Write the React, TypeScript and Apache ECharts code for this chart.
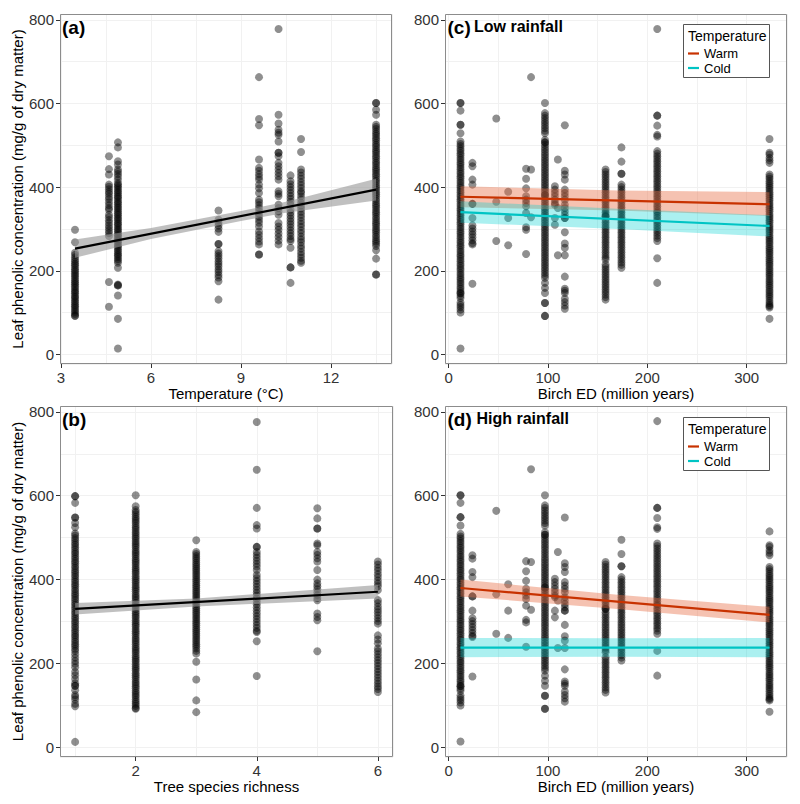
import React, { useEffect, useRef } from "react";
import * as echarts from "echarts";

const FONT = "'Liberation Sans', Arial, Helvetica, sans-serif";

// ---- tick labels ----
const yTicks = [0, 200, 400, 600, 800];
const tempTicks = [3, 6, 9, 12];
const richTicks = [2, 4, 6];
const edTicks = [0, 100, 200, 300];

// ---- panel (a): temperature columns ----
const tempX = [3.47, 4.6, 4.9, 8.25, 9.6, 10.25, 10.65, 11.0, 13.5];
const t347 = [298, 268, 243, 238, 232, 227, 222, 217, 213, 208, 203, 199, 194, 190, 186, 181, 176, 172, 168, 163, 159, 154, 150, 146, 141, 137, 133, 128, 124, 119, 115, 111, 106, 102, 97, 93, 92];
const t46 = [474, 443, 430, 406, 401, 395, 389, 384, 377, 371, 364, 357, 350, 346, 334, 328, 321, 315, 308, 302, 296, 290, 283, 173, 114];
const t49 = [507, 495, 462, 454, 442, 437, 431, 425, 418, 410, 406, 402, 398, 393, 389, 385, 380, 376, 372, 367, 363, 359, 354, 350, 346, 341, 337, 333, 328, 324, 320, 315, 311, 307, 302, 298, 294, 289, 285, 281, 276, 272, 268, 263, 259, 255, 250, 246, 241, 237, 233, 228, 224, 219, 207, 167, 165, 165, 141, 85, 14];
const t825 = [344, 322, 315, 308, 301, 293, 264, 264, 247, 241, 235, 229, 222, 216, 210, 203, 197, 190, 184, 175, 131];
const t96 = [663, 563, 548, 466, 446, 439, 431, 424, 418, 406, 397, 386, 370, 364, 357, 350, 343, 336, 329, 322, 315, 306, 294, 286, 278, 270, 263, 239, 239];
const t1025 = [778, 573, 552, 537, 530, 525, 509, 482, 482, 474, 458, 450, 442, 434, 426, 418, 390, 384, 378, 358, 350, 342, 334, 314, 306, 298, 289, 281, 272, 263];
const t1065 = [428, 414, 407, 400, 393, 386, 379, 372, 365, 358, 346, 339, 332, 325, 318, 311, 304, 297, 290, 283, 276, 271, 255, 208, 208, 171];
const t11 = [515, 484, 442, 435, 427, 420, 412, 405, 398, 390, 386, 378, 371, 363, 356, 349, 341, 334, 327, 319, 312, 305, 297, 290, 282, 275, 268, 260, 253, 245, 238, 231, 224, 219];
const t135 = [601, 601, 585, 573, 549, 544, 539, 533, 528, 523, 517, 512, 506, 501, 496, 490, 485, 480, 474, 469, 463, 458, 453, 447, 442, 437, 431, 426, 420, 415, 410, 404, 399, 394, 388, 383, 378, 372, 367, 361, 356, 351, 345, 340, 335, 329, 324, 318, 313, 308, 302, 297, 292, 286, 281, 275, 270, 265, 259, 249, 229, 191, 191];
const tempCols = [t347, t46, t49, t825, t96, t1025, t1065, t11, t135];

// ---- panel (b): tree species richness columns ----
const richX = [1, 2, 3, 4, 5, 6];
const r1 = [599, 599, 583, 548, 548, 535, 525, 510, 505, 499, 494, 488, 483, 477, 472, 466, 461, 455, 450, 444, 439, 433, 428, 422, 417, 411, 406, 400, 395, 389, 384, 378, 373, 367, 362, 356, 351, 345, 340, 334, 329, 323, 318, 312, 307, 301, 296, 290, 285, 279, 274, 268, 263, 257, 252, 246, 241, 235, 230, 222, 214, 206, 199, 191, 180, 172, 163, 153, 147, 147, 136, 125, 120, 114, 104, 98, 13];
const r2 = [601, 575, 566, 561, 556, 550, 545, 540, 535, 529, 524, 519, 513, 508, 503, 498, 492, 487, 482, 477, 471, 466, 461, 456, 450, 445, 440, 435, 429, 424, 419, 414, 408, 403, 398, 393, 387, 382, 377, 372, 366, 361, 356, 351, 345, 340, 335, 330, 324, 319, 314, 309, 303, 298, 293, 288, 282, 277, 272, 267, 261, 256, 251, 246, 240, 235, 230, 225, 219, 214, 209, 204, 198, 193, 188, 183, 177, 172, 167, 162, 156, 151, 146, 141, 135, 130, 125, 120, 114, 109, 104, 99, 94, 92];
const r3 = [494, 466, 461, 456, 451, 446, 441, 436, 431, 426, 421, 416, 411, 406, 401, 396, 391, 386, 381, 376, 371, 366, 361, 356, 351, 346, 341, 336, 331, 326, 321, 316, 311, 306, 301, 296, 291, 286, 281, 276, 271, 266, 261, 256, 251, 246, 241, 236, 230, 224, 204, 162, 112, 84];
const r4 = [776, 662, 571, 530, 522, 478, 478, 466, 459, 452, 445, 438, 431, 423, 411, 404, 397, 390, 383, 376, 369, 362, 355, 348, 341, 334, 327, 320, 313, 306, 299, 292, 285, 278, 275, 253, 170];
const r5 = [570, 546, 522, 522, 486, 482, 466, 459, 451, 443, 423, 400, 391, 384, 377, 370, 363, 356, 351, 319, 311, 303, 229];
const r6 = [443, 436, 428, 421, 413, 406, 398, 391, 384, 375, 351, 344, 336, 329, 322, 315, 308, 301, 295, 267, 257, 248, 236, 229, 222, 215, 208, 201, 194, 187, 180, 173, 166, 159, 152, 145, 139, 132];
const richCols = [r1, r2, r3, r4, r5, r6];

// ---- panels (c) and (d): birch ED columns ----
const edX = [12, 24, 48, 60, 78, 83, 97, 107, 110, 117, 158, 174, 210, 323];
const e12 = [601, 601, 583, 549, 549, 529, 509, 503, 498, 492, 487, 481, 476, 470, 465, 459, 454, 448, 443, 437, 432, 426, 421, 415, 410, 404, 399, 393, 388, 382, 377, 371, 366, 360, 355, 349, 344, 338, 333, 327, 322, 316, 311, 305, 300, 294, 289, 283, 278, 272, 267, 261, 256, 250, 245, 239, 234, 228, 223, 217, 212, 206, 201, 195, 190, 184, 179, 173, 168, 162, 157, 151, 146, 146, 140, 135, 124, 118, 113, 107, 100, 14];
const e24 = [458, 450, 418, 406, 360, 360, 326, 308, 301, 294, 287, 280, 273, 266, 263, 169];
const e48 = [564, 365, 271];
const e60 = [389, 326, 261];
const e78 = [444, 420, 397, 378, 370, 362, 354, 338, 304, 298, 240];
const e83 = [663, 442, 328];
const e97 = [601, 577, 571, 565, 559, 553, 547, 541, 535, 529, 513, 507, 507, 501, 495, 489, 483, 477, 471, 465, 459, 453, 447, 441, 435, 429, 423, 417, 411, 405, 399, 393, 387, 381, 381, 375, 369, 363, 357, 351, 345, 339, 333, 327, 321, 315, 309, 303, 297, 291, 285, 279, 273, 267, 261, 255, 249, 243, 237, 231, 225, 219, 213, 207, 201, 195, 189, 183, 171, 159, 147, 123, 123, 92, 92];
const e107 = [402, 394, 386, 378, 370, 362, 358, 326, 310];
const e110 = [466, 350, 237];
const e117 = [548, 439, 430, 418, 394, 386, 378, 370, 358, 350, 342, 334, 326, 326, 292, 265, 255, 237, 186, 157, 152, 147, 133, 125, 117, 109];
const e158 = [442, 436, 430, 424, 418, 412, 406, 400, 394, 388, 382, 376, 370, 364, 358, 352, 346, 340, 334, 330, 330, 322, 316, 310, 304, 298, 292, 286, 280, 274, 268, 262, 256, 250, 244, 238, 232, 227, 215, 209, 203, 197, 191, 185, 179, 173, 167, 161, 155, 149, 143, 137, 131];
const e174 = [495, 461, 432, 432, 406, 400, 394, 388, 382, 376, 370, 364, 358, 352, 346, 340, 334, 328, 322, 316, 310, 304, 298, 292, 286, 280, 274, 268, 262, 256, 250, 244, 238, 232, 226, 220, 214, 207];
const e210 = [778, 571, 571, 547, 525, 521, 486, 480, 474, 468, 462, 456, 450, 444, 438, 432, 426, 420, 414, 408, 402, 396, 390, 384, 378, 372, 366, 360, 354, 348, 342, 338, 332, 326, 320, 314, 308, 302, 296, 290, 284, 278, 271, 230, 171];
const e323 = [515, 482, 478, 470, 464, 458, 430, 425, 420, 414, 409, 404, 399, 394, 388, 383, 378, 373, 368, 362, 357, 352, 347, 342, 336, 331, 326, 321, 316, 310, 305, 300, 295, 290, 284, 279, 274, 269, 264, 258, 253, 248, 243, 238, 232, 227, 222, 217, 212, 206, 201, 196, 191, 186, 180, 175, 170, 165, 160, 154, 149, 144, 139, 134, 128, 123, 118, 115, 112, 85];
const edCols = [e12, e24, e48, e60, e78, e83, e97, e107, e110, e117, e158, e174, e210, e323];

// ---- fitted lines and confidence bands ----
const lineA = [[3.47, 253], [13.5, 394]];
const bandAX = [3.47, 6, 9, 10.5, 13.5];
const bandALo = [231, 276, 319, 339, 368];
const bandAHi = [275, 302, 343, 365, 420];

const lineB = [[1, 330], [6, 371]];
const bandBX = [1, 3, 6];
const bandBLo = [317, 336, 355];
const bandBHi = [344, 355, 387];

const edBandX = [12, 170, 323];
const lineCWarm = [[12, 377], [323, 359]];
const bandCWarmLo = [352, 344, 331];
const bandCWarmHi = [402, 392, 388];
const lineCCold = [[12, 340], [323, 307]];
const bandCColdLo = [315, 300, 282];
const bandCColdHi = [366, 348, 333];

const lineDWarm = [[12, 380], [323, 316]];
const bandDWarmLo = [360, 330, 298];
const bandDWarmHi = [400, 364, 335];
const lineDCold = [[12, 238], [323, 238]];
const bandDColdLo = [215, 216, 215];
const bandDColdHi = [261, 260, 261];

const WARM = "#C83200";
const COLD = "#00C4C4";

const GRIDS = [
  { left: 60, top: 14, width: 332, height: 350 },   // a
  { left: 445, top: 14, width: 342, height: 350 },  // c
  { left: 60, top: 406, width: 333, height: 351 },  // b
  { left: 445, top: 406, width: 342, height: 351 }, // d
];

const YMIN = -23;
const YMAX = 814;

function columnsToPoints(xs: number[], cols: number[][]) {
  const out: number[][] = [];
  xs.forEach((x, i) => cols[i].forEach((v) => out.push([x, v])));
  return out;
}

function mainAxis(gridIndex: number, min: number, max: number, step: number, ticks: number[], name: string, nameGap: number) {
  return {
    type: "value",
    gridIndex,
    min,
    max,
    minInterval: step,
    maxInterval: step,
    axisLine: { show: false, onZero: false },
    axisTick: { show: true, length: 4, customValues: ticks, lineStyle: { color: "#333", width: 1 } },
    axisLabel: {
      show: true,
      customValues: ticks,
      color: "#333",
      fontSize: 15,
      fontFamily: FONT,
      margin: 6,
      formatter: (v: number) => (ticks.some((t) => Math.abs(t - v) < 1e-6) ? String(v) : ""),
    },
    splitLine: { show: true, lineStyle: { color: "#e6e6e6", width: 1 } },
    name,
    nameLocation: "middle",
    nameGap,
    nameTextStyle: { color: "#000", fontSize: 15, fontFamily: FONT },
  };
}

function minorAxis(gridIndex: number, min: number, max: number, step: number) {
  return {
    type: "value",
    gridIndex,
    min,
    max,
    minInterval: step,
    maxInterval: step,
    axisLine: { show: false, onZero: false },
    axisTick: { show: false },
    axisLabel: { show: false },
    splitLine: { show: true, lineStyle: { color: "#f1f1f1", width: 1 } },
  };
}

function bandSeries(idx: number, xs: number[], lo: number[], hi: number[], fill: string) {
  return {
    type: "custom",
    xAxisIndex: idx,
    yAxisIndex: idx,
    silent: true,
    z: 3,
    data: xs.map((x, i) => [x, lo[i], hi[i]]),
    encode: { x: 0, y: [1, 2] },
    renderItem: (params: any, api: any) => {
      if (params.dataIndex !== 0) return { type: "group", children: [] };
      const top = xs.map((x, i) => api.coord([x, hi[i]]));
      const bot = xs.map((x, i) => api.coord([x, lo[i]])).reverse();
      return { type: "polygon", shape: { points: top.concat(bot) }, style: { fill } };
    },
  };
}

function lineSeries(idx: number, data: number[][], color: string) {
  return {
    type: "line",
    xAxisIndex: idx,
    yAxisIndex: idx,
    data,
    symbol: "none",
    silent: true,
    z: 4,
    lineStyle: { color, width: 2.2 },
  };
}

function scatterSeries(idx: number, data: number[][]) {
  return {
    type: "scatter",
    xAxisIndex: idx,
    yAxisIndex: idx,
    data,
    symbol: "circle",
    symbolSize: 8,
    silent: true,
    z: 2,
    itemStyle: { color: "rgba(0,0,0,0.55)", borderWidth: 0 },
  };
}

function txt(x: number, y: number, text: string, size: number, bold: boolean) {
  return {
    type: "text",
    x,
    y,
    z: 60,
    silent: true,
    style: {
      text,
      fill: "#000",
      font: `${bold ? "bold " : ""}${size}px ${FONT}`,
      textAlign: "left",
      textVerticalAlign: "middle",
      align: "left",
      verticalAlign: "middle",
    },
  };
}

function legend(top: number) {
  const x0 = 683;
  return [
    { type: "rect", z: 55, silent: true, shape: { x: x0 + 0.5, y: top + 0.5, width: 86, height: 53 }, style: { fill: "#fff", stroke: "#555", lineWidth: 1 } },
    txt(x0 + 5, top + 12, "Temperature", 14, false),
    { type: "line", z: 60, silent: true, shape: { x1: x0 + 5, y1: top + 29.5, x2: x0 + 16, y2: top + 29.5 }, style: { stroke: WARM, lineWidth: 2.2 } },
    txt(x0 + 21, top + 29.5, "Warm", 13, false),
    { type: "line", z: 60, silent: true, shape: { x1: x0 + 5, y1: top + 44, x2: x0 + 16, y2: top + 44 }, style: { stroke: COLD, lineWidth: 2.2 } },
    txt(x0 + 21, top + 44, "Cold", 13, false),
  ];
}

export default function App() {
  const ref = useRef<HTMLDivElement>(null);

  useEffect(() => {
    if (!ref.current) return;
    const chart = echarts.init(ref.current, undefined, { renderer: "svg" });

    const xAxes = [
      mainAxis(0, 2.97, 14.03, 3, tempTicks, "Temperature (°C)", 14),
      mainAxis(1, -3.6, 340.6, 100, edTicks, "Birch ED (million years)", 14),
      mainAxis(2, 0.75, 6.25, 2, richTicks, "Tree species richness", 14),
      mainAxis(3, -3.6, 340.6, 100, edTicks, "Birch ED (million years)", 14),
      minorAxis(0, 2.97, 14.03, 1.5),
      minorAxis(1, -3.6, 340.6, 50),
      minorAxis(2, 0.75, 6.25, 1),
      minorAxis(3, -3.6, 340.6, 50),
    ];
    const yName = "Leaf phenolic concentration (mg/g of dry matter)";
    const yAxes = [
      mainAxis(0, YMIN, YMAX, 200, yTicks, yName, 32),
      mainAxis(1, YMIN, YMAX, 200, yTicks, "", 32),
      mainAxis(2, YMIN, YMAX, 200, yTicks, yName, 32),
      mainAxis(3, YMIN, YMAX, 200, yTicks, "", 32),
      minorAxis(0, YMIN, YMAX, 100),
      minorAxis(1, YMIN, YMAX, 100),
      minorAxis(2, YMIN, YMAX, 100),
      minorAxis(3, YMIN, YMAX, 100),
    ];

    const tempPts = columnsToPoints(tempX, tempCols);
    const richPts = columnsToPoints(richX, richCols);
    const edPts = columnsToPoints(edX, edCols);

    const GREY_FILL = "rgba(150,150,150,0.6)";
    const WARM_FILL = "rgba(230,110,70,0.42)";
    const COLD_FILL = "rgba(0,210,210,0.33)";

    const series = [
      scatterSeries(0, tempPts),
      bandSeries(0, bandAX, bandALo, bandAHi, GREY_FILL),
      lineSeries(0, lineA, "#000"),

      scatterSeries(1, edPts),
      bandSeries(1, edBandX, bandCWarmLo, bandCWarmHi, WARM_FILL),
      bandSeries(1, edBandX, bandCColdLo, bandCColdHi, COLD_FILL),
      lineSeries(1, lineCWarm, WARM),
      lineSeries(1, lineCCold, COLD),

      scatterSeries(2, richPts),
      bandSeries(2, bandBX, bandBLo, bandBHi, GREY_FILL),
      lineSeries(2, lineB, "#000"),

      scatterSeries(3, edPts),
      bandSeries(3, edBandX, bandDWarmLo, bandDWarmHi, WARM_FILL),
      bandSeries(3, edBandX, bandDColdLo, bandDColdHi, COLD_FILL),
      lineSeries(3, lineDWarm, WARM),
      lineSeries(3, lineDCold, COLD),
    ];

    const frames = GRIDS.map((g) => ({
      type: "rect",
      z: 50,
      silent: true,
      shape: { x: g.left + 0.5, y: g.top + 0.5, width: g.width - 1, height: g.height - 1 },
      style: { fill: "none", stroke: "#8c8c8c", lineWidth: 1 },
    }));

    const labels = [
      txt(62, 27.5, "(a)", 19, true),
      txt(447.5, 27.5, "(c)", 19, true),
      txt(474, 26.5, "Low rainfall", 16, true),
      txt(62, 419.5, "(b)", 19, true),
      txt(447.5, 419.5, "(d)", 19, true),
      txt(476.5, 418.5, "High rainfall", 16, true),
    ];

    chart.setOption({
      animation: false,
      backgroundColor: "#fff",
      textStyle: { fontFamily: FONT },
      grid: GRIDS.map((g) => ({ ...g, containLabel: false, show: false })),
      xAxis: xAxes,
      yAxis: yAxes,
      series,
      graphic: { elements: [...frames, ...labels, ...legend(24), ...legend(417)] },
    });

    return () => chart.dispose();
  }, []);

  return (
    <div
      ref={ref}
      style={{ position: "fixed", left: 0, top: 0, width: 800, height: 804, background: "#fff" }}
    />
  );
}
